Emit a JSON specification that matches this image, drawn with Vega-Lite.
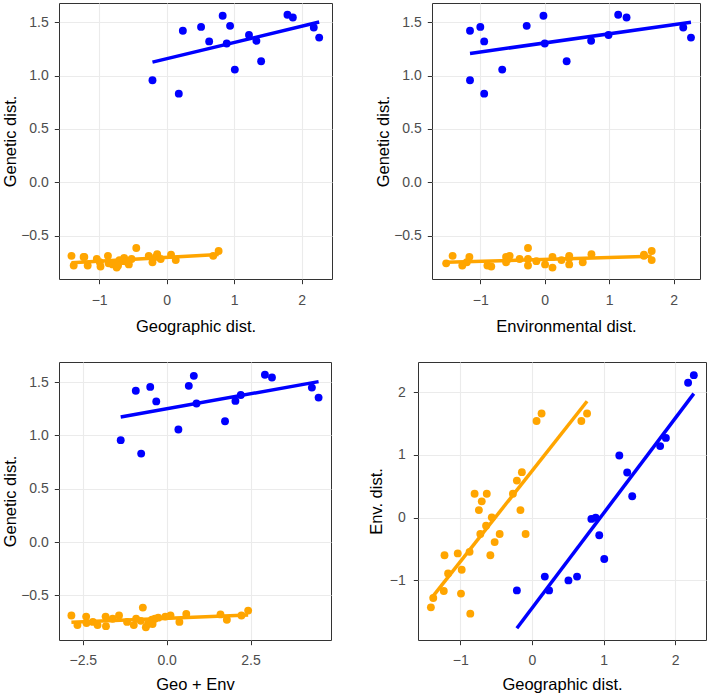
{
  "$schema": "https://vega.github.io/schema/vega-lite/v6.json",
  "padding": {"left": 2, "top": 2, "right": 0, "bottom": 0},
  "background": "white",
  "config": {
    "view": {"stroke": "#333333", "strokeWidth": 1},
    "axis": {
      "domain": false,
      "gridColor": "#EBEBEB",
      "gridWidth": 1.1,
      "tickColor": "#333333",
      "tickSize": 4.7,
      "tickWidth": 1,
      "labelColor": "#4D4D4D",
      "labelFont": "Liberation Sans",
      "labelFontSize": 14,
      "titleFont": "Liberation Sans",
      "titleFontSize": 16.5,
      "titleFontWeight": "normal",
      "titleColor": "black"
    },
    "axisX": {"labelPadding": 10, "titlePadding": 11},
    "axisY": {"labelPadding": 6, "titlePadding": 2}
  },
  "datasets": {
    "d": [
      {"grp": "b", "geo": -0.21, "env": -1.16, "gen": 0.956, "ge": -1.37},
      {"grp": "b", "geo": 0.18, "env": -0.94, "gen": 0.83, "ge": -0.76},
      {"grp": "b", "geo": 0.24, "env": -1.16, "gen": 1.42, "ge": -0.92},
      {"grp": "b", "geo": 0.51, "env": -1.0, "gen": 1.456, "ge": -0.49},
      {"grp": "b", "geo": 0.63, "env": -0.94, "gen": 1.32, "ge": -0.31},
      {"grp": "b", "geo": 0.83, "env": -0.02, "gen": 1.56, "ge": 0.81},
      {"grp": "b", "geo": 0.94, "env": -0.28, "gen": 1.466, "ge": 0.66},
      {"grp": "b", "geo": 0.89, "env": 0.0, "gen": 1.3, "ge": 0.89},
      {"grp": "b", "geo": 1.01, "env": -0.66, "gen": 1.056, "ge": 0.35},
      {"grp": "b", "geo": 1.22, "env": 0.99, "gen": 1.38, "ge": 2.21},
      {"grp": "b", "geo": 1.33, "env": 0.72, "gen": 1.325, "ge": 2.05},
      {"grp": "b", "geo": 1.4, "env": 0.34, "gen": 1.134, "ge": 1.74},
      {"grp": "b", "geo": 1.79, "env": 1.14, "gen": 1.57, "ge": 2.93},
      {"grp": "b", "geo": 1.87, "env": 1.27, "gen": 1.544, "ge": 3.14},
      {"grp": "b", "geo": 2.18, "env": 2.15, "gen": 1.45, "ge": 4.33},
      {"grp": "b", "geo": 2.26, "env": 2.27, "gen": 1.356, "ge": 4.53},
      {"grp": "o", "geo": -1.41, "env": -1.43, "gen": -0.69, "ge": -2.84},
      {"grp": "o", "geo": -1.377, "env": -1.28, "gen": -0.78, "ge": -2.66},
      {"grp": "o", "geo": -1.23, "env": -1.17, "gen": -0.7, "ge": -2.4},
      {"grp": "o", "geo": -1.17, "env": -0.89, "gen": -0.78, "ge": -2.06},
      {"grp": "o", "geo": -1.22, "env": -0.6, "gen": -0.7, "ge": -1.82},
      {"grp": "o", "geo": -1.035, "env": -0.57, "gen": -0.72, "ge": -1.61},
      {"grp": "o", "geo": -0.98, "env": -0.83, "gen": -0.79, "ge": -1.81},
      {"grp": "o", "geo": -0.99, "env": -1.21, "gen": -0.75, "ge": -2.2},
      {"grp": "o", "geo": -0.87, "env": -0.545, "gen": -0.69, "ge": -1.42},
      {"grp": "o", "geo": -0.86, "env": -1.53, "gen": -0.76, "ge": -2.39},
      {"grp": "o", "geo": -0.8, "env": 0.38, "gen": -0.77, "ge": -0.42},
      {"grp": "o", "geo": -0.7, "env": 0.26, "gen": -0.73, "ge": -0.44},
      {"grp": "o", "geo": -0.74, "env": 0.12, "gen": -0.8, "ge": -0.62},
      {"grp": "o", "geo": -0.63, "env": 0.38, "gen": -0.71, "ge": -0.25},
      {"grp": "o", "geo": -0.72, "env": -0.26, "gen": -0.78, "ge": -0.98},
      {"grp": "o", "geo": -0.64, "env": -0.13, "gen": -0.74, "ge": -0.77},
      {"grp": "o", "geo": -0.56, "env": 0.005, "gen": -0.77, "ge": -0.555},
      {"grp": "o", "geo": -0.58, "env": -0.6, "gen": -0.75, "ge": -1.18},
      {"grp": "o", "geo": -0.52, "env": -0.39, "gen": -0.72, "ge": -0.91},
      {"grp": "o", "geo": -0.45, "env": -0.26, "gen": -0.616, "ge": -0.71},
      {"grp": "o", "geo": -0.265, "env": 0.38, "gen": -0.69, "ge": 0.115},
      {"grp": "o", "geo": -0.21, "env": 0.59, "gen": -0.75, "ge": 0.38},
      {"grp": "o", "geo": -0.14, "env": 0.725, "gen": -0.675, "ge": 0.585},
      {"grp": "o", "geo": -0.16, "env": 0.12, "gen": -0.7, "ge": -0.04},
      {"grp": "o", "geo": -0.088, "env": -0.26, "gen": -0.72, "ge": -0.348},
      {"grp": "o", "geo": 0.065, "env": 1.54, "gen": -0.68, "ge": 1.605},
      {"grp": "o", "geo": 0.135, "env": 1.66, "gen": -0.73, "ge": 1.795},
      {"grp": "o", "geo": 0.69, "env": 1.54, "gen": -0.69, "ge": 2.23},
      {"grp": "o", "geo": 0.77, "env": 1.66, "gen": -0.644, "ge": 2.43}
    ]
  },
  "vconcat": [
    {
      "spacing": 42,
      "hconcat": [
        {
          "width": 273, "height": 276,
          "data": {"name": "d"},
          "resolve": {"axis": {"x": "independent", "y": "independent"}},
          "layer": [
            {
              "mark": {"type": "circle", "size": 62, "opacity": 1},
              "encoding": {
                "x": {"field": "geo", "type": "quantitative", "title": "Geographic dist.",
                  "scale": {"domain": [-1.595, 2.45], "nice": false, "zero": false},
                  "axis": {"values": [-1, 0, 1, 2], "format": "d"}},
                "y": {"field": "gen", "type": "quantitative", "title": "Genetic dist.",
                  "scale": {"domain": [-0.907, 1.68], "nice": false, "zero": false},
                  "axis": {"values": [-0.5, 0, 0.5, 1, 1.5], "format": ".1f"}},
                "color": {"field": "grp", "type": "nominal", "scale": {"domain": ["b", "o"], "range": ["#0000FF", "#FFA500"]}, "legend": null}
              }
            },
            {
              "transform": [{"regression": "gen", "on": "geo", "groupby": ["grp"]}],
              "mark": {"type": "line", "strokeWidth": 3.5},
              "encoding": {
                "x": {"field": "geo", "type": "quantitative", "title": null,
                  "axis": {"values": [-1.5, -0.5, 0.5, 1.5], "labels": false, "ticks": false, "gridWidth": 0.55, "orient": "bottom"}},
                "y": {"field": "gen", "type": "quantitative", "title": null,
                  "axis": {"values": [-0.75, -0.25, 0.25, 0.75, 1.25], "labels": false, "ticks": false, "gridWidth": 0.55, "orient": "left"}},
                "color": {"field": "grp", "type": "nominal", "scale": {"domain": ["b", "o"], "range": ["#0000FF", "#FFA500"]}, "legend": null}
              }
            }
          ]
        },
        {
          "width": 268, "height": 276,
          "data": {"name": "d"},
          "resolve": {"axis": {"x": "independent", "y": "independent"}},
          "layer": [
            {
              "mark": {"type": "circle", "size": 62, "opacity": 1},
              "encoding": {
                "x": {"field": "env", "type": "quantitative", "title": "Environmental dist.",
                  "scale": {"domain": [-1.75, 2.41], "nice": false, "zero": false},
                  "axis": {"values": [-1, 0, 1, 2], "format": "d"}},
                "y": {"field": "gen", "type": "quantitative", "title": "Genetic dist.",
                  "scale": {"domain": [-0.907, 1.68], "nice": false, "zero": false},
                  "axis": {"values": [-0.5, 0, 0.5, 1, 1.5], "format": ".1f"}},
                "color": {"field": "grp", "type": "nominal", "scale": {"domain": ["b", "o"], "range": ["#0000FF", "#FFA500"]}, "legend": null}
              }
            },
            {
              "transform": [{"regression": "gen", "on": "env", "groupby": ["grp"]}],
              "mark": {"type": "line", "strokeWidth": 3.5},
              "encoding": {
                "x": {"field": "env", "type": "quantitative", "title": null,
                  "axis": {"values": [-1.5, -0.5, 0.5, 1.5], "labels": false, "ticks": false, "gridWidth": 0.55, "orient": "bottom"}},
                "y": {"field": "gen", "type": "quantitative", "title": null,
                  "axis": {"values": [-0.75, -0.25, 0.25, 0.75, 1.25], "labels": false, "ticks": false, "gridWidth": 0.55, "orient": "left"}},
                "color": {"field": "grp", "type": "nominal", "scale": {"domain": ["b", "o"], "range": ["#0000FF", "#FFA500"]}, "legend": null}
              }
            }
          ]
        }
      ]
    },
    {
      "spacing": 35,
      "hconcat": [
        {
          "width": 272, "height": 278,
          "data": {"name": "d"},
          "resolve": {"axis": {"x": "independent", "y": "independent"}},
          "layer": [
            {
              "mark": {"type": "circle", "size": 62, "opacity": 1},
              "encoding": {
                "x": {"field": "ge", "type": "quantitative", "title": "Geo + Env",
                  "scale": {"domain": [-3.21, 4.9], "nice": false, "zero": false},
                  "axis": {"values": [-2.5, 0, 2.5], "format": ".1f", "labelPadding": 9, "titlePadding": 9}},
                "y": {"field": "gen", "type": "quantitative", "title": "Genetic dist.",
                  "scale": {"domain": [-0.92, 1.69], "nice": false, "zero": false},
                  "axis": {"values": [-0.5, 0, 0.5, 1, 1.5], "format": ".1f"}},
                "color": {"field": "grp", "type": "nominal", "scale": {"domain": ["b", "o"], "range": ["#0000FF", "#FFA500"]}, "legend": null}
              }
            },
            {
              "transform": [{"regression": "gen", "on": "ge", "groupby": ["grp"]}],
              "mark": {"type": "line", "strokeWidth": 3.5},
              "encoding": {
                "x": {"field": "ge", "type": "quantitative", "title": null,
                  "axis": {"values": [-1.25, 1.25, 3.75], "labels": false, "ticks": false, "gridWidth": 0.55, "orient": "bottom"}},
                "y": {"field": "gen", "type": "quantitative", "title": null,
                  "axis": {"values": [-0.75, -0.25, 0.25, 0.75, 1.25], "labels": false, "ticks": false, "gridWidth": 0.55, "orient": "left"}},
                "color": {"field": "grp", "type": "nominal", "scale": {"domain": ["b", "o"], "range": ["#0000FF", "#FFA500"]}, "legend": null}
              }
            }
          ]
        },
        {
          "width": 288, "height": 278,
          "data": {"name": "d"},
          "resolve": {"axis": {"x": "independent", "y": "independent"}},
          "layer": [
            {
              "mark": {"type": "circle", "size": 62, "opacity": 1},
              "encoding": {
                "x": {"field": "geo", "type": "quantitative", "title": "Geographic dist.",
                  "scale": {"domain": [-1.59, 2.43], "nice": false, "zero": false},
                  "axis": {"values": [-1, 0, 1, 2], "format": "d", "labelPadding": 9, "titlePadding": 9}},
                "y": {"field": "env", "type": "quantitative", "title": "Env. dist.",
                  "scale": {"domain": [-1.95, 2.48], "nice": false, "zero": false},
                  "axis": {"values": [-1, 0, 1, 2], "format": "d", "labelPadding": 8, "titlePadding": 5}},
                "color": {"field": "grp", "type": "nominal", "scale": {"domain": ["b", "o"], "range": ["#0000FF", "#FFA500"]}, "legend": null}
              }
            },
            {
              "transform": [{"regression": "env", "on": "geo", "groupby": ["grp"]}],
              "mark": {"type": "line", "strokeWidth": 3.5},
              "encoding": {
                "x": {"field": "geo", "type": "quantitative", "title": null,
                  "axis": {"values": [-1.5, -0.5, 0.5, 1.5], "labels": false, "ticks": false, "gridWidth": 0.55, "orient": "bottom"}},
                "y": {"field": "env", "type": "quantitative", "title": null,
                  "axis": {"values": [-1.5, -0.5, 0.5, 1.5], "labels": false, "ticks": false, "gridWidth": 0.55, "orient": "left"}},
                "color": {"field": "grp", "type": "nominal", "scale": {"domain": ["b", "o"], "range": ["#0000FF", "#FFA500"]}, "legend": null}
              }
            }
          ]
        }
      ]
    }
  ],
  "spacing": 25
}
